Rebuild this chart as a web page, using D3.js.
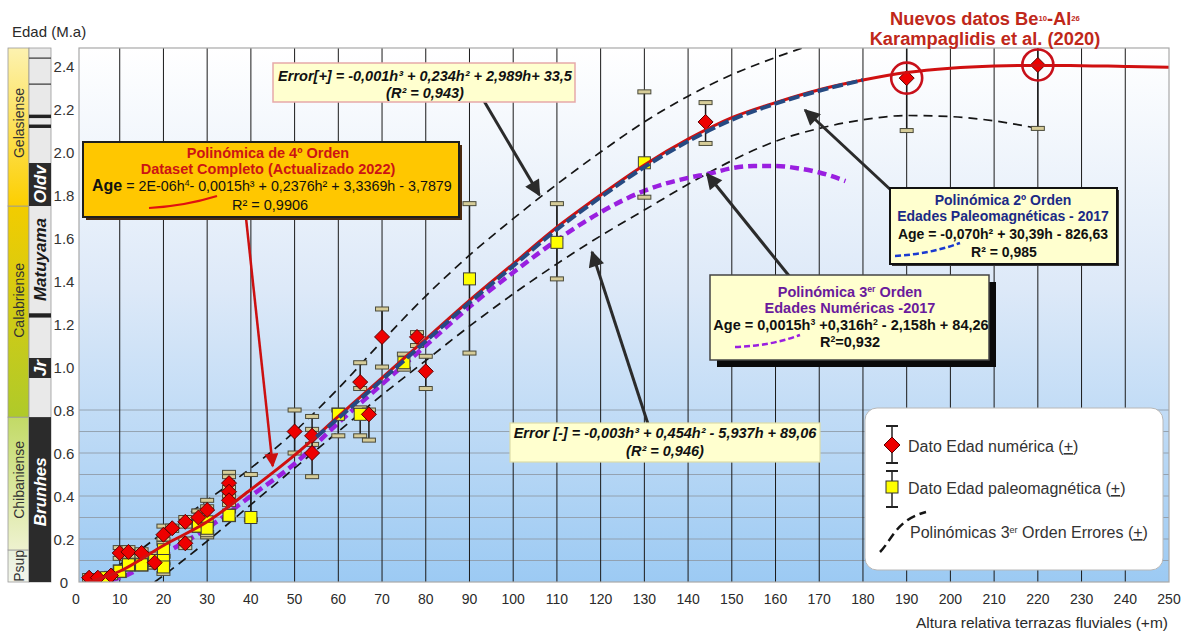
<!DOCTYPE html>
<html><head><meta charset="utf-8">
<script src="https://cdn.jsdelivr.net/npm/d3@7"></script>
<style>
body{margin:0;background:#fff;}
svg{font-family:Arial,"Liberation Sans",sans-serif;}
</style></head><body>
<svg id="chart" width="1187" height="634"></svg>
<script>
// ---------------- DATA ----------------
const xTickValues = d3.range(0, 251, 10);
const yTickValues = [0, 0.2, 0.4, 0.6, 0.8, 1.0, 1.2, 1.4, 1.6, 1.8, 2.0, 2.2, 2.4];
const hLineValues = [0.1, 0.2, 0.3, 0.4, 0.5, 0.6, 0.7, 0.8];

// 4th order polynomial (complete dataset, 2022)
const redH   = [3, 10, 20, 30, 40, 50, 60, 70, 80, 90, 100, 110, 120, 130, 140, 150, 160, 170, 180, 190, 200, 210, 220, 230, 240, 250];
const redAge = [0.0, 0.05, 0.17, 0.28, 0.43, 0.59, 0.77, 0.95, 1.13, 1.31, 1.48, 1.65, 1.80, 1.94, 2.06, 2.16, 2.23, 2.29, 2.335, 2.37, 2.39, 2.40, 2.403, 2.402, 2.398, 2.395];
// 2nd order polynomial (paleomagnetic 2017)
const blueH   = [55, 60, 70, 80, 90, 100, 110, 120, 130, 140, 150, 160, 170, 180];
const blueAge = [0.675, 0.762, 0.94, 1.12, 1.30, 1.47, 1.64, 1.79, 1.93, 2.05, 2.15, 2.225, 2.285, 2.335];
// 3rd order polynomial (numerical ages 2017)
const purH   = [5, 10, 20, 30, 40, 50, 60, 70, 80, 90, 100, 110, 120, 130, 140, 145, 150, 155, 160, 165, 170, 176];
const purAge = [0.0, 0.02, 0.13, 0.25, 0.40, 0.55, 0.74, 0.92, 1.10, 1.28, 1.44, 1.59, 1.72, 1.82, 1.88, 1.90, 1.925, 1.935, 1.935, 1.925, 1.905, 1.865];
// error polynomials
const upH   = [4, 10, 20, 30, 40, 50, 60, 70, 80, 90, 100, 110, 120, 130, 140, 150, 160, 167];
const upAge = [0.0, 0.08, 0.23, 0.38, 0.53, 0.70, 0.90, 1.12, 1.33, 1.52, 1.69, 1.85, 2.00, 2.14, 2.26, 2.36, 2.44, 2.49];
const loH   = [18, 20, 30, 40, 50, 60, 70, 80, 90, 100, 110, 120, 130, 140, 150, 160, 170, 180, 190, 200, 210, 220];
const loAge = [0.0, 0.03, 0.19, 0.36, 0.53, 0.70, 0.87, 1.03, 1.19, 1.34, 1.48, 1.61, 1.73, 1.85, 1.96, 2.05, 2.11, 2.15, 2.17, 2.165, 2.145, 2.11];

// numerical ages (red diamonds) with error range
const numH   = [3, 5, 8, 10, 12, 15, 18, 20, 22, 25, 25, 28, 30, 35, 35, 35, 50, 54, 54, 65, 67, 70, 78, 80, 144, 190, 220];
const numAge = [0.02, 0.02, 0.03, 0.135, 0.14, 0.135, 0.09, 0.22, 0.25, 0.28, 0.18, 0.30, 0.335, 0.46, 0.42, 0.38, 0.70, 0.68, 0.60, 0.93, 0.78, 1.14, 1.14, 0.98, 2.14, 2.344, 2.405];
const numLo  = [0.01, 0.01, 0.02, 0.11, 0.12, 0.12, 0.07, 0.20, 0.24, 0.26, 0.16, 0.28, 0.22, 0.44, 0.40, 0.36, 0.60, 0.64, 0.49, 0.90, 0.66, 1.00, 1.10, 0.90, 2.04, 2.10, 2.11];
const numHi  = [0.03, 0.03, 0.04, 0.16, 0.16, 0.15, 0.11, 0.26, 0.26, 0.30, 0.20, 0.33, 0.38, 0.51, 0.49, 0.40, 0.80, 0.71, 0.77, 1.02, 0.80, 1.27, 1.16, 1.05, 2.23, 2.60, 2.60];

// paleomagnetic ages (yellow squares) with error range
const palH   = [7, 10, 12, 15, 18, 20, 20, 20, 28, 30, 30, 35, 40, 60, 65, 75, 90, 110, 130];
const palAge = [0.02, 0.05, 0.08, 0.08, 0.10, 0.15, 0.10, 0.07, 0.26, 0.28, 0.25, 0.31, 0.30, 0.78, 0.78, 1.02, 1.41, 1.58, 1.95];
const palLo  = [0.01, 0.03, 0.06, 0.06, 0.07, 0.12, 0.08, 0.04, 0.24, 0.21, 0.23, 0.29, 0.29, 0.68, 0.68, 0.99, 1.065, 1.41, 1.79];
const palHi  = [0.03, 0.07, 0.10, 0.10, 0.13, 0.18, 0.12, 0.09, 0.33, 0.35, 0.27, 0.33, 0.50, 0.80, 0.81, 1.06, 1.76, 1.76, 2.28];

// chronostratigraphy strip
const stageNames = ["Psup", "Chibaniense", "Calabriense", "Gelasiense"];
const stageBase  = [0, 0.149, 0.767, 1.749];
const stageTop   = [0.149, 0.767, 1.749, 2.484];
const stageLabelAge = [0.075, 0.475, 1.31, 2.135];
const chronNames = ["Brunhes", "Jr", "Oldv"];
const chronBase  = [0, 0.949, 1.749];
const chronTop   = [0.767, 1.042, 1.949];
const chronLabelAge = [0.42, 0.995, 1.85];
const thinBandBase = [1.23, 2.112, 2.158];
const thinBandTop  = [1.25, 2.128, 2.174];
const thinLines    = [2.316, 2.437];

// ---------------- LAYOUT ----------------
const plotL = 79, plotR = 1169, plotT = 48, plotB = 582;
const svg = d3.select("#chart");
const x = d3.scaleLinear().domain([0, 250]).range([76, 1169]);
const y = d3.scaleLinear().domain([0, 2.484]).range([plotB, plotT]);

const defs = svg.append("defs");
function vgrad(id, stops) {
  const g = defs.append("linearGradient").attr("id", id).attr("x1", 0).attr("y1", 0).attr("x2", 0).attr("y2", 1);
  stops.forEach(s => g.append("stop").attr("offset", s[0]).attr("stop-color", s[1]));
}
vgrad("bg", [["0%", "#ffffff"], ["45%", "#dde9f8"], ["100%", "#9ccaf3"]]);
vgrad("g_Gelasiense", [["0%", "#fdf2b0"], ["100%", "#fccf00"]]);
vgrad("g_Calabriense", [["0%", "#f2cc00"], ["100%", "#afca2a"]]);
vgrad("g_Chibaniense", [["0%", "#c2da66"], ["100%", "#eef2cf"]]);
vgrad("g_Psup", [["0%", "#e9f0dc"], ["100%", "#f3f6ec"]]);
defs.append("clipPath").attr("id", "plotclip").append("rect")
  .attr("x", plotL).attr("y", plotT).attr("width", plotR - plotL).attr("height", plotB - plotT);

function marker(id, color, w, h) {
  defs.append("marker").attr("id", id).attr("viewBox", "0 0 10 10").attr("refX", 9).attr("refY", 5)
    .attr("markerUnits", "userSpaceOnUse").attr("markerWidth", w).attr("markerHeight", h).attr("orient", "auto")
    .append("path").attr("d", "M0,0 L10,5 L0,10 Z").attr("fill", color);
}
marker("arrDark", "#2b2b2b", 18, 16);
marker("arrRed", "#cc1010", 16, 14);

// background
svg.append("rect").attr("x", plotL).attr("y", plotT).attr("width", plotR - plotL).attr("height", plotB - plotT)
  .attr("fill", "url(#bg)");

const plot = svg.append("g").attr("clip-path", "url(#plotclip)");
plot.selectAll(".hl").data(hLineValues).join("line")
  .attr("x1", plotL).attr("x2", plotR).attr("y1", d => y(d)).attr("y2", d => y(d))
  .attr("stroke", "#8f9aa6").attr("stroke-width", 1).attr("opacity", 0.85);
plot.selectAll(".vl").data(xTickValues.filter(d => d > 0 && d < 250)).join("line")
  .attr("x1", d => x(d)).attr("x2", d => x(d)).attr("y1", plotT).attr("y2", plotB)
  .attr("stroke", "#1a1a1a").attr("stroke-width", 1);

svg.append("rect").attr("x", plotL).attr("y", plotT).attr("width", plotR - plotL).attr("height", plotB - plotT)
  .attr("fill", "none").attr("stroke", "#a8a8a8").attr("stroke-width", 1.2);

const line = d3.line().x(d => x(d[0])).y(d => y(d[1])).curve(d3.curveMonotoneX);
const zip = (a, b) => a.map((v, i) => [v, b[i]]);

plot.append("path").attr("d", line(zip(upH, upAge))).attr("fill", "none")
  .attr("stroke", "#151515").attr("stroke-width", 1.7).attr("stroke-dasharray", "9,6");
plot.append("path").attr("d", line(zip(loH, loAge))).attr("fill", "none")
  .attr("stroke", "#151515").attr("stroke-width", 1.7).attr("stroke-dasharray", "9,6");
plot.append("path").attr("d", line(zip(purH, purAge))).attr("fill", "none")
  .attr("stroke", "#9a1fe0").attr("stroke-width", 4.5).attr("stroke-dasharray", "9,5");

const capW = 13, capH = 4;
function errorBars(hs, ages, los, his) {
  const g = plot.append("g");
  hs.forEach((h, i) => {
    g.append("line").attr("x1", x(h)).attr("x2", x(h)).attr("y1", y(los[i])).attr("y2", y(his[i]))
      .attr("stroke", "#1a1a1a").attr("stroke-width", 1.5);
    [los[i], his[i]].forEach(v => g.append("rect").attr("x", x(h) - capW / 2).attr("y", y(v) - capH / 2)
      .attr("width", capW).attr("height", capH).attr("fill", "#d6cc98").attr("stroke", "#4a4a3a").attr("stroke-width", 1));
  });
}
errorBars(palH, palAge, palLo, palHi);
errorBars(numH, numAge, numLo, numHi);
plot.append("g").selectAll("rect").data(zip(palH, palAge)).join("rect")
  .attr("x", d => x(d[0]) - 6).attr("y", d => y(d[1]) - 6).attr("width", 12).attr("height", 12)
  .attr("fill", "#ffff00").attr("stroke", "#3a3a3a").attr("stroke-width", 1);
plot.append("g").selectAll("path").data(zip(numH, numAge)).join("path")
  .attr("d", d => `M${x(d[0])},${y(d[1]) - 7.5} l7.5,7.5 l-7.5,7.5 l-7.5,-7.5 Z`)
  .attr("fill", "#ee0000").attr("stroke", "#5a0000").attr("stroke-width", 1);

plot.append("path").attr("d", line(zip(redH, redAge))).attr("fill", "none")
  .attr("stroke", "#d01010").attr("stroke-width", 3);
plot.append("path").attr("d", line(zip(blueH, blueAge))).attr("fill", "none")
  .attr("stroke", "#264a82").attr("stroke-width", 4).attr("stroke-dasharray", "11,4");

const circH = [190, 220], circAge = [2.344, 2.405];
svg.append("g").selectAll("circle").data(zip(circH, circAge)).join("circle")
  .attr("cx", d => x(d[0])).attr("cy", d => y(d[1])).attr("r", 15.5)
  .attr("fill", "none").attr("stroke", "#c8101a").attr("stroke-width", 2.6);

svg.append("g").selectAll("text").data(xTickValues).join("text")
  .attr("x", d => x(d)).attr("y", 604).attr("text-anchor", "middle")
  .attr("font-size", 14).attr("fill", "#2a2a2a").text(d => d);
svg.append("g").selectAll("text").data(yTickValues).join("text")
  .attr("x", 64).attr("y", d => y(d) + 5.5).attr("text-anchor", "middle")
  .attr("font-size", 15).attr("fill", "#333").text(d => d === 0 ? "0" : d.toFixed(1));
svg.append("text").attr("x", 1168).attr("y", 628).attr("text-anchor", "end")
  .attr("font-size", 15.5).attr("fill", "#2a2a2a").text("Altura relativa terrazas fluviales (+m)");
svg.append("text").attr("x", 12).attr("y", 37).attr("font-size", 15).attr("fill", "#2a2a2a").text("Edad (M.a)");

// ---------- left strip ----------
const c1x = 8, c1w = 21, c2x = 29, c2w = 22;
const strip = svg.append("g");
stageNames.forEach((n, i) => {
  strip.append("rect").attr("x", c1x).attr("y", y(stageTop[i])).attr("width", c1w)
    .attr("height", y(stageBase[i]) - y(stageTop[i])).attr("fill", `url(#g_${n})`)
    .attr("stroke", "#9a9a9a").attr("stroke-width", 0.8);
  strip.append("text").attr("transform", `translate(${c1x + c1w / 2 + 5},${y(stageLabelAge[i])}) rotate(-90)`)
    .attr("text-anchor", "middle").attr("font-size", 14).attr("fill", "#333").text(n);
});
strip.append("rect").attr("x", c2x).attr("y", plotT).attr("width", c2w).attr("height", plotB - plotT)
  .attr("fill", "#e9e9e9").attr("stroke", "#9a9a9a").attr("stroke-width", 0.8);
chronNames.forEach((n, i) => {
  strip.append("rect").attr("x", c2x).attr("y", y(chronTop[i])).attr("width", c2w)
    .attr("height", y(chronBase[i]) - y(chronTop[i])).attr("fill", "#2b2b2b");
  strip.append("text").attr("transform", `translate(${c2x + c2w / 2 + 6},${y(chronLabelAge[i])}) rotate(-90)`)
    .attr("text-anchor", "middle").attr("font-size", 17).attr("font-weight", "bold").attr("font-style", "italic")
    .attr("fill", "#ffffff").text(n);
});
thinBandBase.forEach((b, i) => strip.append("rect").attr("x", c2x).attr("y", y(thinBandTop[i])).attr("width", c2w)
  .attr("height", y(b) - y(thinBandTop[i])).attr("fill", "#222"));
thinLines.forEach(v => strip.append("line").attr("x1", c2x).attr("x2", c2x + c2w).attr("y1", y(v)).attr("y2", y(v))
  .attr("stroke", "#333").attr("stroke-width", 1.2));
strip.append("text").attr("transform", `translate(${c2x + c2w / 2 + 6},${y(1.50)}) rotate(-90)`)
  .attr("text-anchor", "middle").attr("font-size", 17).attr("font-weight", "bold").attr("font-style", "italic")
  .attr("fill", "#1a1a1a").text("Matuyama");

// ---------- annotations ----------
const ann = svg.append("g");
function box(x0, y0, w, h, fill, stroke, sw, shadow, shadowOff) {
  if (shadow) ann.append("rect").attr("x", x0 + shadowOff).attr("y", y0 + shadowOff).attr("width", w).attr("height", h).attr("fill", shadow);
  ann.append("rect").attr("x", x0).attr("y", y0).attr("width", w).attr("height", h)
    .attr("fill", fill).attr("stroke", stroke).attr("stroke-width", sw);
}
function txt(xp, yp, parts, opts) {
  const t = ann.append("text").attr("x", xp).attr("y", yp).attr("text-anchor", opts.anchor || "middle")
    .attr("font-size", opts.size || 14).attr("fill", opts.fill || "#111")
    .attr("font-weight", opts.weight || "normal").attr("font-style", opts.style || "normal");
  parts.forEach(p => {
    if (typeof p === "string") t.append("tspan").text(p);
    else {
      const s = t.append("tspan").text(p.t);
      if (p.sup) s.attr("font-size", (opts.size || 14) * (p.k || 0.6)).attr("baseline-shift", "super");
      if (p.w) s.attr("font-weight", p.w);
      if (p.fs) s.attr("font-size", p.fs);
    }
  });
  return t;
}
function arrow(x1, y1, x2, y2, color, w, mk) {
  ann.append("line").attr("x1", x1).attr("y1", y1).attr("x2", x2).attr("y2", y2)
    .attr("stroke", color).attr("stroke-width", w).attr("marker-end", `url(#${mk})`);
}

arrow(246, 218, x(45), y(0.52) - 4, "#cc1010", 2.5, "arrRed");
arrow(484, 101, x(106), y(1.80), "#2b2b2b", 3, "arrDark");
arrow(648, 424, 592, 252, "#2b2b2b", 3, "arrDark");
arrow(790, 277, 707, 174, "#2b2b2b", 3, "arrDark");
arrow(893, 192, 805, 110, "#2b2b2b", 3, "arrDark");

// orange box
box(83, 142, 376, 75, "#ffc700", "#1e1e1e", 2, "#4a2a10", 3);
txt(268, 158, ["Polinómica de 4º Orden"], { size: 14.5, weight: "bold", fill: "#cc1414" });
txt(268, 174, ["Dataset Completo (Actualizado 2022)"], { size: 14.5, weight: "bold", fill: "#cc1414" });
txt(92, 191, [{ t: "Age", w: "bold", fs: 16 }, " = 2E-06h", { t: "4", sup: true }, "- 0,0015h³ + 0,2376h² + 3,3369h - 3,7879"], { size: 14.3, anchor: "start" });
txt(270, 210, ["R² = 0,9906"], { size: 14.5 });
ann.append("path").attr("d", "M149,208 Q185,206 217,196").attr("fill", "none").attr("stroke", "#e01010").attr("stroke-width", 2.2);

// Error + box
box(273, 63, 302, 39, "#ffffcf", "#e6a9a9", 1.5, null, 0);
txt(425, 81, ["Error[+] = -0,001h³ + 0,234h² + 2,989h+ 33,5"], { size: 14.5, weight: "bold", style: "italic" });
txt(425, 98, ["(R² = 0,943)"], { size: 14.5, weight: "bold", style: "italic" });

// Error - box
box(510, 423, 310, 39, "#ffffcf", "#dcdca8", 1.2, null, 0);
txt(665, 438, ["Error [-] = -0,003h³ + 0,454h² - 5,937h + 89,06"], { size: 14.5, weight: "bold", style: "italic" });
txt(665, 456, ["(R² = 0,946)"], { size: 14.5, weight: "bold", style: "italic" });

// blue box
box(890, 188, 227, 76, "#ffffcf", "#111", 2, "#333", 2);
txt(1003, 205, ["Polinómica 2º Orden"], { size: 14, weight: "bold", fill: "#1b2a86" });
txt(1003, 221, ["Edades Paleomagnéticas - 2017"], { size: 14, weight: "bold", fill: "#1b2a86" });
txt(1003, 239, ["Age = -0,070h² + 30,39h - 826,63"], { size: 14, weight: "bold" });
txt(1004, 257, ["R² = 0,985"], { size: 14, weight: "bold" });
ann.append("path").attr("d", "M895,256 Q930,254 960,243").attr("fill", "none").attr("stroke", "#1a3ad0")
  .attr("stroke-width", 2.5).attr("stroke-dasharray", "6,3");

// purple box
box(710, 275, 279, 85, "#ffffcf", "#444", 1.5, "#0a0a0a", 7);
txt(850, 297, ["Polinómica 3", { t: "er", sup: true }, " Orden"], { size: 14.5, weight: "bold", fill: "#6a1a9c" });
txt(850, 313, ["Edades Numéricas -2017"], { size: 14.5, weight: "bold", fill: "#6a1a9c" });
txt(851, 330, ["Age = 0,0015h", { t: "3", sup: true }, " +0,316h", { t: "2", sup: true }, " - 2,158h + 84,26"], { size: 14.5, weight: "bold" });
txt(850, 347, ["R", { t: "2", sup: true }, "=0,932"], { size: 14.5, weight: "bold" });
ann.append("path").attr("d", "M735,347 Q770,346 800,335").attr("fill", "none").attr("stroke", "#9a1fe0")
  .attr("stroke-width", 2.5).attr("stroke-dasharray", "6,3");

// title
txt(985, 25, ["Nuevos datos Be", { t: "10", sup: true, k: 0.42 }, "-Al", { t: "26", sup: true, k: 0.42 }], { size: 18.3, weight: "bold", fill: "#c0281a" });
txt(985, 45, ["Karampaglidis et al. (2020)"], { size: 18.3, weight: "bold", fill: "#c0281a" });

// legend
const lg = svg.append("g");
lg.append("rect").attr("x", 865).attr("y", 408).attr("width", 298).attr("height", 162).attr("rx", 12)
  .attr("fill", "#ffffff").attr("stroke", "#b8b8b8").attr("stroke-width", 1);
lg.append("line").attr("x1", 892).attr("x2", 892).attr("y1", 426).attr("y2", 463).attr("stroke", "#222").attr("stroke-width", 1.5);
[426, 463].forEach(v => lg.append("line").attr("x1", 886).attr("x2", 898).attr("y1", v).attr("y2", v).attr("stroke", "#222").attr("stroke-width", 2));
lg.append("path").attr("d", "M892,437 l8,8 l-8,8 l-8,-8 Z").attr("fill", "#ee0000").attr("stroke", "#5a0000");
lg.append("line").attr("x1", 892).attr("x2", 892).attr("y1", 471).attr("y2", 507).attr("stroke", "#222").attr("stroke-width", 1.5);
[471, 507].forEach(v => lg.append("line").attr("x1", 886).attr("x2", 898).attr("y1", v).attr("y2", v).attr("stroke", "#222").attr("stroke-width", 2));
lg.append("rect").attr("x", 886).attr("y", 481).attr("width", 12).attr("height", 12).attr("fill", "#ffff00").attr("stroke", "#333");
lg.append("path").attr("d", "M880,552 C892,540 896,520 926,512").attr("fill", "none").attr("stroke", "#151515")
  .attr("stroke-width", 2.5).attr("stroke-dasharray", "9,5");
function legText(yp, parts, xp) {
  const t = lg.append("text").attr("x", xp).attr("y", yp).attr("font-size", 16).attr("fill", "#333");
  parts.forEach(p => {
    if (typeof p === "string") t.append("tspan").text(p);
    else {
      const s = t.append("tspan").text(p.t);
      if (p.u) s.attr("text-decoration", "underline");
      if (p.sup) s.attr("font-size", 9).attr("baseline-shift", "super");
    }
  });
}
legText(452, ["Dato Edad numérica (", { t: "+", u: true }, ")"], 908);
legText(494, ["Dato Edad paleomagnética (", { t: "+", u: true }, ")"], 908);
legText(538, ["Polinómicas 3", { t: "er", sup: true }, " Orden Errores (", { t: "+", u: true }, ")"], 910);
</script>
</body></html>
